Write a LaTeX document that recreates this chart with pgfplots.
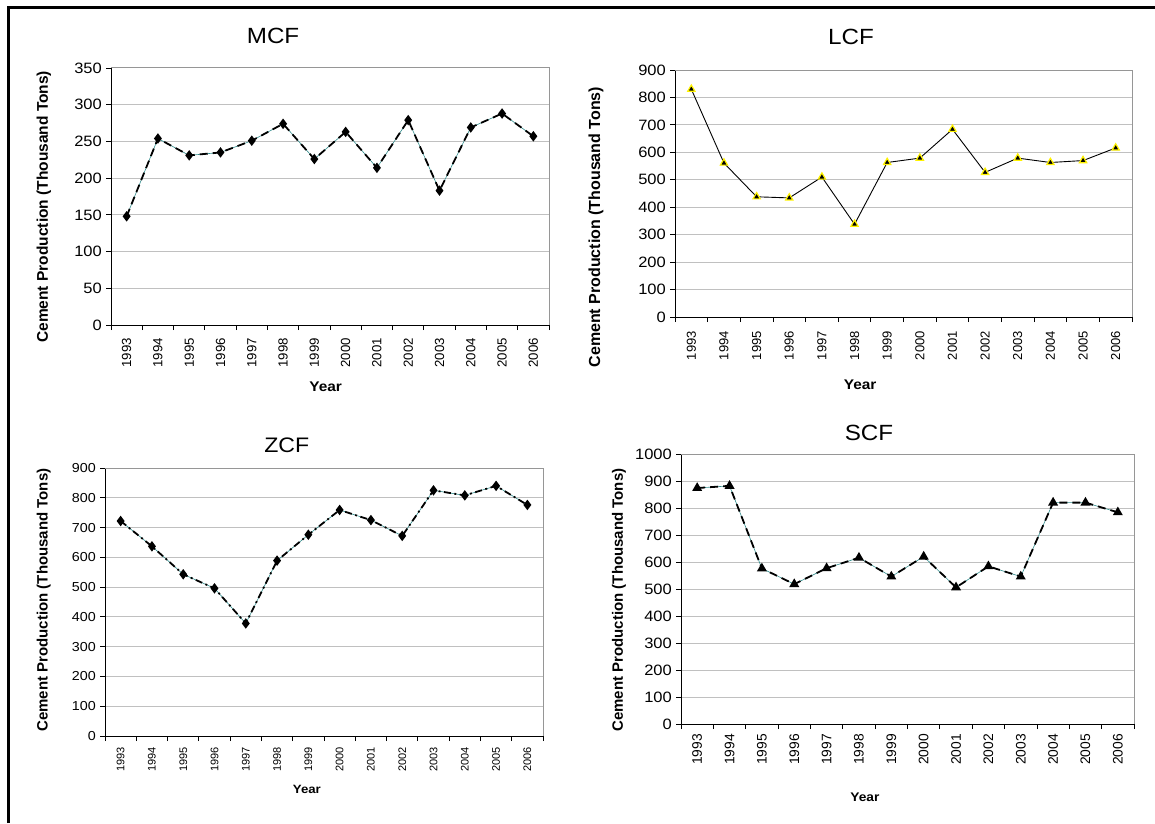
\documentclass[border=0pt]{standalone}
\usepackage{fontspec}
\setmainfont{Liberation Sans}
\newfontfamily\sfh{Liberation Sans}[FakeStretch=1.1]
\usepackage{pgfplots}
\pgfplotsset{compat=1.18}
\usepackage{pgfplotstable}

\definecolor{tealline}{RGB}{50,140,140}
\definecolor{gridc}{RGB}{192,192,192}
\definecolor{framec}{RGB}{150,150,150}

\pgfplotstableread{
x y
1 148
2 254
3 231
4 235
5 251
6 274
7 226
8 263
9 214
10 279
11 183
12 269
13 288
14 257
}\mcf

\pgfplotstableread{
x y
1 830
2 561
3 438
4 434
5 510
6 338
7 563
8 579
9 684
10 527
11 579
12 563
13 570
14 616
}\lcf

\pgfplotstableread{
x y
1 722
2 637
3 543
4 496
5 378
6 589
7 676
8 759
9 725
10 672
11 825
12 808
13 840
14 776
}\zcf

\pgfplotstableread{
x y
1 874
2 882
3 576
4 518
5 577
6 616
7 546
8 620
9 506
10 584
11 546
12 820
13 820
14 784
}\scf

\pgfplotsset{
  panel/.style={
    scale only axis, anchor=south west,
    xmin=0.5, xmax=14.5, ymin=0,
    axis x line*=bottom, axis y line*=left,
    axis line style={black, line width=0.9pt},
    tick align=outside,
    major tick length=5pt,
    tick style={black, line width=0.8pt},
    xtick={0.5,1.5,...,14.5}, xticklabels={},
    extra x ticks={1,2,...,14},
    extra x tick labels={1993,1994,1995,1996,1997,1998,1999,2000,2001,2002,2003,2004,2005,2006},
    extra x tick style={major tick length=0pt},
    ymajorgrids, grid style={gridc, line width=1pt},
    /pgf/number format/assume math mode=true,
    /pgf/number format/1000 sep={},
    clip=false,
    xticklabel style={rotate=90, anchor=east, inner ysep=0pt, inner xsep=13pt},
    yticklabel style={inner xsep=4pt},
    ylabel style={anchor=center, font=\bfseries},
    xlabel style={anchor=center},
    title style={anchor=center},
  },
  dashline/.style={black, line width=1.8pt, dash pattern=on 8pt off 5pt},
  dashdotline/.style={black, line width=1.8pt, dash pattern=on 7pt off 3.5pt on 2pt off 3.5pt},
  underlay/.style={tealline, line width=0.6pt, no marks},
}

\begin{document}
\begin{tikzpicture}
\path[use as bounding box] (0pt,0pt) rectangle (1155pt,823pt);
\draw[line width=3pt] (8.5pt,0pt) -- (8.5pt,815.5pt) -- (1155pt,815.5pt);

% MCF
\begin{axis}[panel,
  at={(111pt,498pt)}, width=438pt, height=257pt,
  ymax=350, ytick={0,50,...,350},
  title={MCF}, title style={at={(axis description cs:0.37,1.102)}, font=\sfh\fontsize{22}{22}\selectfont},
  ylabel={Cement Production (Thousand Tons)},
  ylabel style={at={(axis description cs:-0.153,0.46)}, font=\bfseries\fontsize{15.5}{15.5}\selectfont},
  xlabel={\bfseries Year},
  xlabel style={at={(axis description cs:0.49,-0.241)}, font=\sfh\bfseries\fontsize{14}{14}\selectfont},
  yticklabel style={font=\sfh\fontsize{15}{15}\selectfont},
  xticklabel style={font=\fontsize{13.2}{13.2}\selectfont},
]
\draw[framec, line width=1pt] (rel axis cs:0,1) -- (rel axis cs:1,1) -- (rel axis cs:1,0);
\addplot[underlay] table {\mcf};
\addplot[dashline, mark=diamond*, mark size=3.8pt, mark options={solid, fill=black}] table {\mcf};
\end{axis}

% LCF
\begin{axis}[panel,
  at={(675pt,506pt)}, width=457pt, height=247pt,
  ymax=900, ytick={0,100,...,900},
  title={LCF}, title style={at={(axis description cs:0.385,1.11)}, font=\sfh\fontsize{22}{22}\selectfont},
  ylabel={Cement Production (Thousand Tons)},
  ylabel style={at={(axis description cs:-0.173,0.364)}, font=\bfseries\fontsize{16}{16}\selectfont},
  xlabel={\bfseries Year},
  xlabel style={at={(axis description cs:0.405,-0.275)}, font=\sfh\bfseries\fontsize{14}{14}\selectfont},
  yticklabel style={font=\sfh\fontsize{15}{15}\selectfont},
  xticklabel style={font=\fontsize{13}{13}\selectfont, inner xsep=14pt},
]
\draw[framec, line width=1pt] (rel axis cs:0,1) -- (rel axis cs:1,1) -- (rel axis cs:1,0);
\addplot[black, line width=0.9pt, mark=triangle*, mark size=4.2pt, mark options={fill=black, draw=yellow, line width=1.2pt}] table {\lcf};
\end{axis}

% ZCF
\begin{axis}[panel,
  at={(105pt,87pt)}, width=438pt, height=268pt,
  ymax=900, ytick={0,100,...,900},
  title={ZCF}, title style={at={(axis description cs:0.415,1.062)}, font=\sfh\fontsize{21}{21}\selectfont},
  ylabel={Cement Production (Thousand Tons)},
  ylabel style={at={(axis description cs:-0.14,0.507)}, font=\bfseries\fontsize{15}{15}\selectfont},
  xlabel={\bfseries Year},
  xlabel style={at={(axis description cs:0.461,-0.201)}, font=\sfh\bfseries\fontsize{12}{12}\selectfont},
  yticklabel style={font=\sfh\fontsize{13}{13}\selectfont},
  xticklabel style={font=\fontsize{11}{11}\selectfont, inner xsep=11pt},
]
\draw[framec, line width=1pt] (rel axis cs:0,1) -- (rel axis cs:1,1) -- (rel axis cs:1,0);
\addplot[underlay] table {\zcf};
\addplot[dashdotline, mark=diamond*, mark size=3.8pt, mark options={solid, fill=black}] table {\zcf};
\end{axis}

% SCF
\begin{axis}[panel,
  at={(681pt,99pt)}, width=453pt, height=270pt,
  ymax=1000, ytick={0,100,...,1000},
  title={SCF}, title style={at={(axis description cs:0.415,1.057)}, font=\sfh\fontsize{22}{22}\selectfont},
  ylabel={Cement Production (Thousand Tons)},
  ylabel style={at={(axis description cs:-0.137,0.459)}, font=\bfseries\fontsize{15}{15}\selectfont},
  xlabel={\bfseries Year},
  xlabel style={at={(axis description cs:0.406,-0.270)}, font=\sfh\bfseries\fontsize{12.5}{12.5}\selectfont},
  yticklabel style={font=\sfh\fontsize{15}{15}\selectfont},
  xticklabel style={font=\fontsize{13.8}{13.8}\selectfont, inner xsep=10pt},
]
\draw[framec, line width=1pt] (rel axis cs:0,1) -- (rel axis cs:1,1) -- (rel axis cs:1,0);
\addplot[underlay] table {\scf};
\addplot[dashline, mark=triangle*, mark size=4pt, mark options={solid, fill=black}] table {\scf};
\end{axis}
\end{tikzpicture}
\end{document}
